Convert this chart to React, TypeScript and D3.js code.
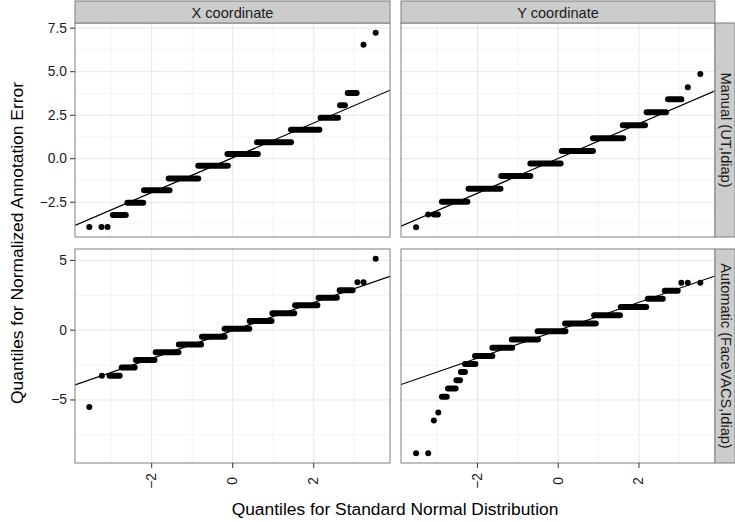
import React from "react";
import * as d3 from "d3";

// ---- data ----
const colLabels = ["X coordinate", "Y coordinate"];
const rowLabels = ["Manual (UT,Idiap)", "Automatic (FaceVACS,Idiap)"];
const xTicks = [-2, 0, 2];
const yTicksRow0 = [-2.5, 0, 2.5, 5, 7.5];
const yTicksRow1 = [-5, 0, 5];
const xTitle = "Quantiles for Standard Normal Distribution";
const yTitle = "Quantiles for Normalized Annotation Error";

// isolated points [theoretical, sample]
const manualXPoints = [[-3.54, -3.92], [-3.24, -3.92], [-3.09, -3.92], [3.23, 6.55], [3.53, 7.24]];
// runs of tied sample values [theoretical from, theoretical to, sample]
const manualXRuns = [
  [-2.96, -2.64, -3.24], [-2.60, -2.21, -2.53], [-2.19, -1.56, -1.81], [-1.58, -0.85, -1.14],
  [-0.85, -0.12, -0.40], [-0.13, 0.62, 0.27], [0.60, 1.44, 0.95], [1.44, 2.14, 1.67],
  [2.17, 2.60, 2.36], [2.65, 2.77, 3.07], [2.84, 3.06, 3.77],
];
const manualXLine = [0.055, 1.0];

const manualYPoints = [[-3.52, -3.94], [-3.22, -3.20], [3.21, 4.11], [3.52, 4.87]];
const manualYRuns = [
  [-3.08, -2.98, -3.20], [-2.88, -2.25, -2.48], [-2.22, -1.43, -1.73], [-1.41, -0.69, -0.99],
  [-0.69, 0.06, -0.27], [0.09, 0.86, 0.44], [0.86, 1.61, 1.18], [1.60, 2.15, 1.93],
  [2.19, 2.67, 2.67], [2.72, 3.05, 3.41],
];
const manualYLine = [0.015, 1.0];

const autoXPoints = [[-3.54, -5.5], [-3.23, -3.27], [3.08, 3.44], [3.23, 3.44], [3.53, 5.12]];
const autoXRuns = [
  [-3.04, -2.79, -3.27], [-2.74, -2.42, -2.68], [-2.39, -1.93, -2.13], [-1.90, -1.34, -1.59],
  [-1.33, -0.78, -1.02], [-0.76, -0.20, -0.47], [-0.20, 0.41, 0.10], [0.42, 0.96, 0.66],
  [0.98, 1.52, 1.21], [1.54, 2.09, 1.78], [2.12, 2.57, 2.32], [2.64, 2.96, 2.87],
];
const autoXLine = [-0.025, 1.0];

const autoYPoints = [
  [-3.52, -8.82], [-3.22, -8.82], [-3.08, -6.47], [-2.97, -5.9],
  [3.05, 3.39], [3.21, 3.39], [3.52, 3.39],
];
const autoYRuns = [
  [-2.88, -2.76, -4.77], [-2.73, -2.54, -4.17], [-2.52, -2.43, -3.58], [-2.41, -2.31, -2.99],
  [-2.31, -2.05, -2.42], [-2.06, -1.63, -1.85], [-1.63, -1.14, -1.26], [-1.15, -0.50, -0.66],
  [-0.51, 0.18, -0.07], [0.17, 0.93, 0.47], [0.89, 1.53, 1.07], [1.55, 2.18, 1.66],
  [2.22, 2.59, 2.26], [2.64, 2.96, 2.82],
];
const autoYLine = [0.0, 1.0];

const panels = [
  { row: 0, col: 0, points: manualXPoints, runs: manualXRuns, line: manualXLine },
  { row: 0, col: 1, points: manualYPoints, runs: manualYRuns, line: manualYLine },
  { row: 1, col: 0, points: autoXPoints, runs: autoXRuns, line: autoXLine },
  { row: 1, col: 1, points: autoYPoints, runs: autoYRuns, line: autoYLine },
];
const rowYTicks = [yTicksRow0, yTicksRow1];

// ---- layout ----
const W = 735;
const H = 522;
const colX = [[75, 390], [401, 715]];
const rowY = [[23, 237], [249, 463]];
const FONT = "'Liberation Sans', Arial, Helvetica, sans-serif";
const R = 3;

function expand(ext: number[]) {
  const d = ext[1] - ext[0];
  return [ext[0] - 0.05 * d, ext[1] + 0.05 * d];
}

function rowValues(row: number) {
  const v: number[] = [];
  panels.filter((p) => p.row === row).forEach((p) => {
    p.points.forEach((q) => v.push(q[1]));
    p.runs.forEach((q) => v.push(q[2]));
  });
  return v;
}

function allX() {
  const v: number[] = [];
  panels.forEach((p) => {
    p.points.forEach((q) => v.push(q[0]));
    p.runs.forEach((q) => { v.push(q[0]); v.push(q[1]); });
  });
  return v;
}

function minorBreaks(major: number[], domain: number[]) {
  const step = major[1] - major[0];
  const res: number[] = [];
  const start = major[0] - step;
  for (let m = start; m <= major[major.length - 1] + step; m += step) {
    const mid = m + step / 2;
    if (mid > domain[0] && mid < domain[1]) res.push(mid);
  }
  return res;
}

const fmt = (v: number, dec: number) => {
  const s = v.toFixed(dec);
  return s.startsWith("-") ? "\u2212" + s.slice(1) : s;
};

export default function App() {
  const xDomain = expand(d3.extent(allX()) as number[]);
  const yDomains = [0, 1].map((r) => expand(d3.extent(rowValues(r)) as number[]));
  const xScales = colX.map((c) => d3.scaleLinear().domain(xDomain).range(c));
  const yScales = rowY.map((rr, i) => d3.scaleLinear().domain(yDomains[i]).range([rr[1], rr[0]]));
  const xMinor = minorBreaks(xTicks, xDomain);

  return (
    <svg width={W} height={H} style={{ position: "absolute", left: 0, top: 0, display: "block", background: "#fff" }} fontFamily={FONT}>
      <defs>
        {panels.map((p, i) => (
          <clipPath id={`clip${i}`} key={i}>
            <rect x={colX[p.col][0]} y={rowY[p.row][0]} width={colX[p.col][1] - colX[p.col][0]} height={rowY[p.row][1] - rowY[p.row][0]} />
          </clipPath>
        ))}
      </defs>
      {panels.map((p, i) => {
        const xs = xScales[p.col];
        const ys = yScales[p.row];
        const [x0, x1] = colX[p.col];
        const [y0, y1] = rowY[p.row];
        const yMajor = rowYTicks[p.row];
        const yMinor = minorBreaks(yMajor, yDomains[p.row]);
        const lineGen = d3.line<number>().x((d) => xs(d)).y((d) => ys(p.line[0] + p.line[1] * d));
        return (
          <g key={i}>
            <rect x={x0} y={y0} width={x1 - x0} height={y1 - y0} fill="#fff" />
            {yMinor.map((t) => (
              <line key={"ym" + t} x1={x0} x2={x1} y1={ys(t)} y2={ys(t)} stroke="#f3f3f3" strokeWidth={1} />
            ))}
            {xMinor.map((t) => (
              <line key={"xm" + t} y1={y0} y2={y1} x1={xs(t)} x2={xs(t)} stroke="#f3f3f3" strokeWidth={1} />
            ))}
            {yMajor.map((t) => (
              <line key={"yM" + t} x1={x0} x2={x1} y1={ys(t)} y2={ys(t)} stroke="#e6e6e6" strokeWidth={1} />
            ))}
            {xTicks.map((t) => (
              <line key={"xM" + t} y1={y0} y2={y1} x1={xs(t)} x2={xs(t)} stroke="#e6e6e6" strokeWidth={1} />
            ))}
            <g clipPath={`url(#clip${i})`}>
              {p.runs.map((r, k) => (
                <line key={"r" + k} x1={xs(r[0])} x2={xs(r[1])} y1={ys(r[2])} y2={ys(r[2])} stroke="#000" strokeWidth={2 * R} strokeLinecap="round" />
              ))}
              {p.points.map((q, k) => (
                <circle key={"p" + k} cx={xs(q[0])} cy={ys(q[1])} r={R} fill="#000" />
              ))}
              <path d={lineGen(xDomain) || ""} stroke="#000" strokeWidth={1.2} fill="none" />
            </g>
            <rect x={x0} y={y0} width={x1 - x0} height={y1 - y0} fill="none" stroke="#7f7f7f" strokeWidth={1} />
            {p.col === 0 &&
              yMajor.map((t) => (
                <g key={"yt" + t}>
                  <line x1={x0 - 5} x2={x0} y1={ys(t)} y2={ys(t)} stroke="#333" strokeWidth={1} />
                  <text x={x0 - 8} y={ys(t)} textAnchor="end" dominantBaseline="central" fontSize={13.8} fill="#1a1a1a">
                    {fmt(t, yMajor === yTicksRow0 ? 1 : 0)}
                  </text>
                </g>
              ))}
            {p.row === 1 &&
              xTicks.map((t) => (
                <g key={"xt" + t}>
                  <line x1={xs(t)} x2={xs(t)} y1={y1} y2={y1 + 5} stroke="#333" strokeWidth={1} />
                  <text
                    transform={`translate(${xs(t)},${y1 + 18}) rotate(-90)`}
                    textAnchor="middle"
                    dominantBaseline="central"
                    fontSize={13.8}
                    fill="#1a1a1a"
                  >
                    {fmt(t, 0)}
                  </text>
                </g>
              ))}
          </g>
        );
      })}
      {colLabels.map((lab, c) => (
        <g key={"cs" + c}>
          <rect x={colX[c][0]} y={1} width={colX[c][1] - colX[c][0]} height={22} fill="#cccccc" stroke="#7f7f7f" strokeWidth={1} />
          <text x={(colX[c][0] + colX[c][1]) / 2} y={12.5} textAnchor="middle" dominantBaseline="central" fontSize={14.6} fill="#1a1a1a">
            {lab}
          </text>
        </g>
      ))}
      {rowLabels.map((lab, r) => (
        <g key={"rs" + r}>
          <rect x={715} y={rowY[r][0]} width={20} height={rowY[r][1] - rowY[r][0]} fill="#cccccc" stroke="#7f7f7f" strokeWidth={1} />
          <text
            transform={`translate(${725.5},${(rowY[r][0] + rowY[r][1]) / 2}) rotate(90)`}
            textAnchor="middle"
            dominantBaseline="central"
            fontSize={14.6}
            fill="#1a1a1a"
          >
            {lab}
          </text>
        </g>
      ))}
      <text x={(colX[0][0] + colX[1][1]) / 2} y={515} textAnchor="middle" fontSize={17.4} fill="#000">
        {xTitle}
      </text>
      <text transform={`translate(23,${(rowY[0][0] + rowY[1][1]) / 2}) rotate(-90)`} textAnchor="middle" fontSize={17.4} fill="#000">
        {yTitle}
      </text>
    </svg>
  );
}
